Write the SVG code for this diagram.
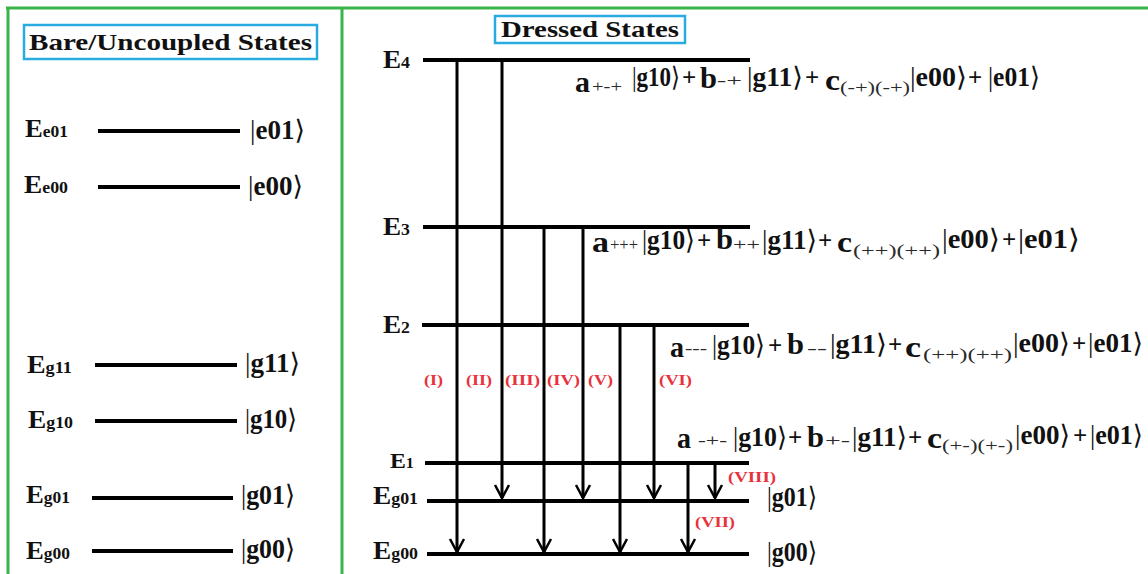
<svg xmlns="http://www.w3.org/2000/svg" width="1148" height="574" viewBox="0 0 1148 574">
<style>
.t{font-family:"Liberation Serif","DejaVu Serif",serif;fill:#111}
.bd{font-weight:bold}
.m{font-size:25px;font-weight:bold}
.ab{font-size:29px;font-weight:bold}
.sb{font-size:16px;fill:#2a2a2a}
.k{font-size:27px;font-weight:normal}
.lvl{stroke:#000;stroke-width:4}
.arr{stroke:#000;stroke-width:3;fill:none}
.rd{font-family:"Liberation Serif","DejaVu Serif",serif;font-weight:bold;font-size:15px;fill:#e8323c}
.e{font-size:26px;font-weight:bold}
.es{font-size:17px;font-weight:bold}
.ttl{font-size:24px;font-weight:bold}
</style>
<defs>
<marker id="ah" markerUnits="userSpaceOnUse" markerWidth="20" markerHeight="20" refX="0" refY="0" orient="auto" overflow="visible">
<path d="M-13,-7 L0,0 L-13,7" fill="none" stroke="#000" stroke-width="2.5"/>
</marker>
</defs>
<rect width="1148" height="574" fill="#fff"/>
<g id="frame" stroke="#3bb54a" stroke-width="3" fill="none">
<line x1="6" y1="8" x2="1148" y2="8"/>
<line x1="8" y1="8" x2="8" y2="574"/>
<line x1="342" y1="8" x2="342" y2="574"/>
</g>
<g id="title-bare">
<rect x="24" y="25" width="293" height="34" fill="none" stroke="#29abe2" stroke-width="2.5"/>
<text class="t ttl" x="29" y="50" textLength="283" lengthAdjust="spacingAndGlyphs">Bare/Uncoupled States</text>
</g>
<g id="title-dressed">
<rect x="495" y="16" width="190" height="27" fill="none" stroke="#29abe2" stroke-width="2.5"/>
<text class="t ttl" x="501" y="37" textLength="178" lengthAdjust="spacingAndGlyphs">Dressed States</text>
</g>
<g id="bare-e01">
<text class="t e" x="25" y="137" textLength="43" lengthAdjust="spacingAndGlyphs">E<tspan class="es">e01</tspan></text>
<line class="lvl" x1="98" y1="131" x2="240" y2="131"/>
<text class="t k" x="250" y="139" textLength="55" lengthAdjust="spacingAndGlyphs">|<tspan class="bd">e01</tspan>⟩</text>
</g>
<g id="bare-e00">
<text class="t e" x="24" y="193" textLength="44" lengthAdjust="spacingAndGlyphs">E<tspan class="es">e00</tspan></text>
<line class="lvl" x1="98" y1="187" x2="240" y2="187"/>
<text class="t k" x="248" y="195" textLength="55" lengthAdjust="spacingAndGlyphs">|<tspan class="bd">e00</tspan>⟩</text>
</g>
<g id="bare-g11">
<text class="t e" x="27" y="373" textLength="45" lengthAdjust="spacingAndGlyphs">E<tspan class="es">g11</tspan></text>
<line class="lvl" x1="95" y1="365" x2="237" y2="365"/>
<text class="t k" x="245" y="372" textLength="55" lengthAdjust="spacingAndGlyphs">|<tspan class="bd">g11</tspan>⟩</text>
</g>
<g id="bare-g10">
<text class="t e" x="28" y="428" textLength="45" lengthAdjust="spacingAndGlyphs">E<tspan class="es">g10</tspan></text>
<line class="lvl" x1="95" y1="421" x2="237" y2="421"/>
<text class="t k" x="245" y="428" textLength="52" lengthAdjust="spacingAndGlyphs">|<tspan class="bd">g10</tspan>⟩</text>
</g>
<g id="bare-g01">
<text class="t e" x="26" y="503" textLength="44" lengthAdjust="spacingAndGlyphs">E<tspan class="es">g01</tspan></text>
<line class="lvl" x1="92" y1="498" x2="233" y2="498"/>
<text class="t k" x="241" y="504" textLength="54" lengthAdjust="spacingAndGlyphs">|<tspan class="bd">g01</tspan>⟩</text>
</g>
<g id="bare-g00">
<text class="t e" x="26" y="559" textLength="44" lengthAdjust="spacingAndGlyphs">E<tspan class="es">g00</tspan></text>
<line class="lvl" x1="92" y1="551" x2="233" y2="551"/>
<text class="t k" x="241" y="558" textLength="54" lengthAdjust="spacingAndGlyphs">|<tspan class="bd">g00</tspan>⟩</text>
</g>
<g id="E4">
<text class="t e" x="383" y="68" textLength="27" lengthAdjust="spacingAndGlyphs">E<tspan class="es">4</tspan></text>
<line class="lvl" x1="423" y1="60" x2="750" y2="60"/>
</g>
<g id="E3">
<text class="t e" x="383" y="235" textLength="27" lengthAdjust="spacingAndGlyphs">E<tspan class="es">3</tspan></text>
<line class="lvl" x1="423" y1="227" x2="750" y2="227"/>
</g>
<g id="E2">
<text class="t e" x="383" y="333" textLength="27" lengthAdjust="spacingAndGlyphs">E<tspan class="es">2</tspan></text>
<line class="lvl" x1="422" y1="325" x2="749" y2="325"/>
</g>
<g id="E1">
<text class="t e" x="390" y="468" textLength="24" lengthAdjust="spacingAndGlyphs" style="font-size:22px">E<tspan class="es" style="font-size:15px">1</tspan></text>
<line class="lvl" x1="425" y1="463" x2="749" y2="463"/>
</g>
<g id="Eg01">
<text class="t e" x="373" y="504" textLength="45" lengthAdjust="spacingAndGlyphs">E<tspan class="es">g01</tspan></text>
<line class="lvl" x1="427" y1="501" x2="749" y2="501"/>
<text class="t k" x="767" y="506" textLength="50" lengthAdjust="spacingAndGlyphs">|<tspan class="bd">g01</tspan>⟩</text>
</g>
<g id="Eg00">
<text class="t e" x="373" y="559" textLength="45" lengthAdjust="spacingAndGlyphs">E<tspan class="es">g00</tspan></text>
<line class="lvl" x1="427" y1="554" x2="749" y2="554"/>
<text class="t k" x="767" y="561" textLength="50" lengthAdjust="spacingAndGlyphs">|<tspan class="bd">g00</tspan>⟩</text>
</g>
<g id="connectors" class="arr" marker-end="url(#ah)">
<line x1="457" y1="60" x2="457" y2="552"/>
<line x1="502" y1="60" x2="502" y2="498"/>
<line x1="544" y1="227" x2="544" y2="552"/>
<line x1="583" y1="227" x2="583" y2="498"/>
<line x1="620" y1="325" x2="620" y2="552"/>
<line x1="654" y1="325" x2="654" y2="498"/>
<line x1="688" y1="463" x2="688" y2="552"/>
<line x1="715" y1="463" x2="715" y2="498"/>
</g>
<g id="labels">
<text class="rd" x="424" y="385" textLength="19" lengthAdjust="spacingAndGlyphs">(I)</text>
<text class="rd" x="466" y="385" textLength="26" lengthAdjust="spacingAndGlyphs">(II)</text>
<text class="rd" x="505" y="385" textLength="35" lengthAdjust="spacingAndGlyphs">(III)</text>
<text class="rd" x="547" y="385" textLength="33" lengthAdjust="spacingAndGlyphs">(IV)</text>
<text class="rd" x="588" y="385" textLength="25" lengthAdjust="spacingAndGlyphs">(V)</text>
<text class="rd" x="659" y="385" textLength="33" lengthAdjust="spacingAndGlyphs">(VI)</text>
<text class="rd" x="695" y="527" textLength="40" lengthAdjust="spacingAndGlyphs">(VII)</text>
<text class="rd" x="728" y="482" textLength="48" lengthAdjust="spacingAndGlyphs">(VIII)</text>
</g>
<g id="eq4" class="t">
<text class="ab" x="575" y="92" textLength="15" lengthAdjust="spacingAndGlyphs">a</text>
<text class="sb" x="592" y="92" textLength="30" lengthAdjust="spacingAndGlyphs">+-+</text>
<text class="k" x="632" y="86" textLength="48" lengthAdjust="spacingAndGlyphs">|<tspan class="bd">g10</tspan>⟩</text>
<text class="m" x="682" y="86">+</text>
<text class="ab" x="700" y="88" textLength="17" lengthAdjust="spacingAndGlyphs">b</text>
<text class="sb" x="717" y="86" textLength="25" lengthAdjust="spacingAndGlyphs">-+</text>
<text class="k" x="747" y="86" textLength="56" lengthAdjust="spacingAndGlyphs">|<tspan class="bd">g11</tspan>⟩</text>
<text class="m" x="805" y="86">+</text>
<text class="ab" x="825" y="90" textLength="15" lengthAdjust="spacingAndGlyphs">c</text>
<text class="sb" x="840" y="93" textLength="70" lengthAdjust="spacingAndGlyphs">(-+)(-+)</text>
<text class="k" x="910" y="86" textLength="57" lengthAdjust="spacingAndGlyphs">|<tspan class="bd">e00</tspan>⟩</text>
<text class="m" x="968" y="86">+</text>
<text class="k" x="988" y="86" textLength="52" lengthAdjust="spacingAndGlyphs">|<tspan class="bd">e01</tspan>⟩</text>
</g>
<g id="eq3" class="t">
<text class="ab" x="592" y="252" textLength="17" lengthAdjust="spacingAndGlyphs">a</text>
<text class="sb" x="610" y="250" textLength="28" lengthAdjust="spacingAndGlyphs">+++</text>
<text class="k" x="642" y="249" textLength="53" lengthAdjust="spacingAndGlyphs">|<tspan class="bd">g10</tspan>⟩</text>
<text class="m" x="697" y="249">+</text>
<text class="ab" x="716" y="249" textLength="17" lengthAdjust="spacingAndGlyphs">b</text>
<text class="sb" x="733" y="250" textLength="27" lengthAdjust="spacingAndGlyphs">++</text>
<text class="k" x="762" y="249" textLength="55" lengthAdjust="spacingAndGlyphs">|<tspan class="bd">g11</tspan>⟩</text>
<text class="m" x="818" y="249">+</text>
<text class="ab" x="837" y="252" textLength="15" lengthAdjust="spacingAndGlyphs">c</text>
<text class="sb" x="853" y="256" textLength="87" lengthAdjust="spacingAndGlyphs">(++)(++)</text>
<text class="k" x="942" y="248" textLength="58" lengthAdjust="spacingAndGlyphs">|<tspan class="bd">e00</tspan>⟩</text>
<text class="m" x="1002" y="248">+</text>
<text class="k" x="1018" y="248" textLength="62" lengthAdjust="spacingAndGlyphs">|<tspan class="bd">e01</tspan>⟩</text>
</g>
<g id="eq2" class="t">
<text class="ab" x="670" y="357" textLength="14" lengthAdjust="spacingAndGlyphs">a</text>
<text class="sb" x="685" y="354" textLength="22" lengthAdjust="spacingAndGlyphs">---</text>
<text class="k" x="712" y="354" textLength="53" lengthAdjust="spacingAndGlyphs">|<tspan class="bd">g10</tspan>⟩</text>
<text class="m" x="768" y="354">+</text>
<text class="ab" x="787" y="354" textLength="17" lengthAdjust="spacingAndGlyphs">b</text>
<text class="sb" x="807" y="354" textLength="20" lengthAdjust="spacingAndGlyphs">--</text>
<text class="k" x="830" y="353" textLength="57" lengthAdjust="spacingAndGlyphs">|<tspan class="bd">g11</tspan>⟩</text>
<text class="m" x="888" y="353">+</text>
<text class="ab" x="905" y="357" textLength="16" lengthAdjust="spacingAndGlyphs">c</text>
<text class="sb" x="923" y="360" textLength="89" lengthAdjust="spacingAndGlyphs">(++)(++)</text>
<text class="k" x="1013" y="352" textLength="57" lengthAdjust="spacingAndGlyphs">|<tspan class="bd">e00</tspan>⟩</text>
<text class="m" x="1072" y="352">+</text>
<text class="k" x="1088" y="352" textLength="55" lengthAdjust="spacingAndGlyphs">|<tspan class="bd">e01</tspan>⟩</text>
</g>
<g id="eq1" class="t">
<text class="ab" x="677" y="448" textLength="14" lengthAdjust="spacingAndGlyphs">a</text>
<text class="sb" x="698" y="446" textLength="29" lengthAdjust="spacingAndGlyphs">-+-</text>
<text class="k" x="733" y="446" textLength="54" lengthAdjust="spacingAndGlyphs">|<tspan class="bd">g10</tspan>⟩</text>
<text class="m" x="788" y="446">+</text>
<text class="ab" x="807" y="447" textLength="17" lengthAdjust="spacingAndGlyphs">b</text>
<text class="sb" x="825" y="446" textLength="25" lengthAdjust="spacingAndGlyphs">+-</text>
<text class="k" x="852" y="446" textLength="55" lengthAdjust="spacingAndGlyphs">|<tspan class="bd">g11</tspan>⟩</text>
<text class="m" x="908" y="446">+</text>
<text class="ab" x="927" y="448" textLength="15" lengthAdjust="spacingAndGlyphs">c</text>
<text class="sb" x="942" y="451" textLength="71" lengthAdjust="spacingAndGlyphs">(+-)(+-)</text>
<text class="k" x="1015" y="444" textLength="55" lengthAdjust="spacingAndGlyphs">|<tspan class="bd">e00</tspan>⟩</text>
<text class="m" x="1073" y="444">+</text>
<text class="k" x="1090" y="444" textLength="53" lengthAdjust="spacingAndGlyphs">|<tspan class="bd">e01</tspan>⟩</text>
</g>
</svg>
